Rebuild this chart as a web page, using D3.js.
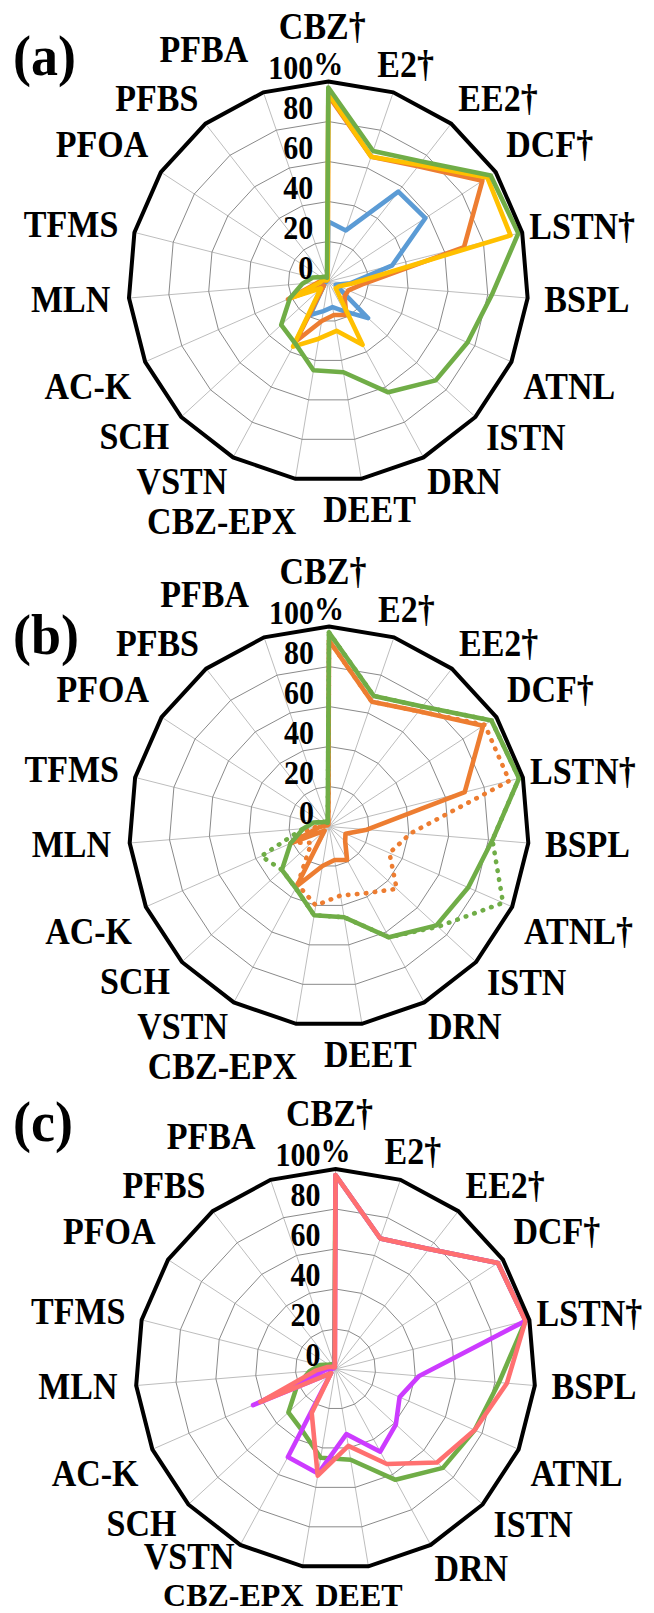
<!DOCTYPE html>
<html>
<head>
<meta charset="utf-8">
<script src="https://cdn.jsdelivr.net/npm/d3@7"></script>
<style>
  html, body { margin: 0; padding: 0; background: #ffffff; }
  svg { display: block; }
  text { font-family: "Liberation Serif", "Times New Roman", serif; font-weight: bold; fill: #000; }
</style>
</head>
<body>
<svg id="chart" width="654" height="1613"></svg>
<script>
// Compounds around each radar (clockwise from the top)
const categories = ["CBZ†", "E2†", "EE2†", "DCF†", "LSTN†", "BSPL", "ATNL", "ISTN", "DRN", "DEET",
                    "CBZ-EPX", "VSTN", "SCH", "AC-K", "MLN", "TFMS", "PFOA", "PFBS", "PFBA"];
const categoriesB = ["CBZ†", "E2†", "EE2†", "DCF†", "LSTN†", "BSPL", "ATNL†", "ISTN", "DRN", "DEET",
                     "CBZ-EPX", "VSTN", "SCH", "AC-K", "MLN", "TFMS", "PFOA", "PFBS", "PFBA"];
const tickValues = [0, 20, 40, 60, 80, 100];
const gridRings = [20, 40, 60, 80];

// Removal (%) per compound
const greenAll      = [97, 69, 76, 97, 98, 82, 76, 73, 63, 46, 45, 35, 32, 21, 13, 8, 4, 3, 2];
const aBlue         = [30, 27, 57, 58, 33, 11, 4, 27, 17, 13, 15, 19, 3, 2, 1, 1, 1, 1, 1];
const aOrange       = [93, 66, 73, 92, 70, 17, 11, 11, 19, 17, 20, 34, 3, 22, 5, 2, 1, 1, 1];
const aYellow       = [94, 66, 74, 95, 94, 12, 6, 5, 36, 25, 29, 37, 5, 20, 4, 3, 1, 1, 1];
const bOrangeSolid  = [93, 66, 73, 92, 70, 19, 9, 11, 19, 17, 20, 34, 3, 21, 5, 2, 1, 1, 1];
const bOrangeDotted = [93, 66, 73, 93, 93, 41, 33, 46, 38, 35, 40, 33, 12, 20, 10, 2, 1, 1, 1];
const bGreenDotted  = [97, 69, 76, 97, 98, 82, 95, 74, 63, 46, 45, 35, 32, 37, 13, 8, 4, 3, 2];
const cGreen        = [97, 69, 76, 97, 98, 82, 76, 73, 63, 46, 45, 35, 32, 21, 13, 8, 4, 3, 2];
const cSalmon       = [97, 69, 76, 97, 98, 86, 76, 69, 54, 39, 54, 25, 3, 41, 10, 4, 2, 1, 1];
const cMagenta      = [97, 69, 76, 97, 98, 42, 35, 41, 47, 33, 53, 50, 3, 45, 5, 1, 1, 1, 1];

// Category label placement relative to the radar centre: anchor, x offset, baseline offset
const labelAnchor = ["middle", "start", "start", "start", "start", "start", "start", "start", "start", "start",
                     "end", "end", "end", "end", "end", "end", "end", "end", "end"];
const labelDx = [-6, 49, 130, 178, 201, 216, 195, 158, 99, -5, -32, -101, -159, -197, -218, -210, -180, -130, -80];
const labelDy = [-243, -205, -171, -125, -43, 30, 117, 168, 212, 240, 252, 212, 167, 117, 30, -45, -125, -171, -220];

const svg = d3.select("#chart");
const radius = 200;
const r = d3.scaleLinear().domain([0, 100]).range([0, radius]);
const n = categories.length;
const angle = d3.scaleLinear().domain([0, n]).range([0, 2 * Math.PI]);
const textStretch = 1.1;

const colors = {
  blue: "#5B9BD5", orange: "#ED7D31", yellow: "#FFC000", green: "#70AD47",
  salmon: "#FF7070", magenta: "#CC3BFF"
};

// bottomRow: in panel (c) CBZ-EPX and DEET share one line at the foot of the page
const panels = [
  { tag: "(a)", cx: 328.3, cy: 281.5, tagY: 75, labels: categories, bottomRow: null,
    series: [
      { values: aBlue, color: colors.blue },
      { values: aOrange, color: colors.orange },
      { values: aYellow, color: colors.yellow },
      { values: greenAll, color: colors.green }
    ] },
  { tag: "(b)", cx: 329, cy: 826.5, tagY: 654, labels: categoriesB, bottomRow: null,
    series: [
      { values: bOrangeSolid, color: colors.orange },
      { values: bOrangeDotted, color: colors.orange, dotted: true },
      { values: greenAll, color: colors.green },
      { values: bGreenDotted, color: colors.green, dotted: true }
    ] },
  { tag: "(c)", cx: 335.5, cy: 1369, tagY: 1141, labels: categories, bottomRow: 237,
    series: [
      { values: cGreen, color: colors.green },
      { values: cMagenta, color: colors.magenta },
      { values: cSalmon, color: colors.salmon }
    ] }
];

const ringLine = d3.lineRadial()
  .angle((d, i) => angle(i))
  .radius(d => r(d))
  .curve(d3.curveLinearClosed);

function addText(g, x, y, str, size, anchor, stretch) {
  return g.append("text")
    .attr("transform", `translate(${x},${y}) scale(1,${stretch})`)
    .attr("text-anchor", anchor)
    .attr("font-size", size)
    .text(str);
}

panels.forEach(p => {
  const g = svg.append("g").attr("transform", `translate(${p.cx},${p.cy})`);

  // spokes
  g.selectAll("line.spoke").data(d3.range(n)).join("line")
    .attr("class", "spoke")
    .attr("x1", 0).attr("y1", 0)
    .attr("x2", i => d3.pointRadial(angle(i), r(100))[0])
    .attr("y2", i => d3.pointRadial(angle(i), r(100))[1])
    .attr("stroke", "#BDBDBD").attr("stroke-width", 1);

  // inner rings
  g.selectAll("path.ring").data(gridRings).join("path")
    .attr("class", "ring")
    .attr("d", v => ringLine(d3.range(n).map(() => v)))
    .attr("fill", "none").attr("stroke", "#8A8A8A").attr("stroke-width", 1);

  // series
  p.series.forEach(s => {
    g.append("path")
      .attr("d", ringLine(s.values))
      .attr("fill", "none")
      .attr("stroke", s.color)
      .attr("stroke-width", 4.6)
      .attr("stroke-linejoin", "round")
      .attr("stroke-linecap", "round")
      .attr("stroke-dasharray", s.dotted ? "0.5,8.5" : null);
  });

  // outer boundary
  g.append("path")
    .attr("d", ringLine(d3.range(n).map(() => 100)))
    .attr("fill", "none").attr("stroke", "#000").attr("stroke-width", 4)
    .attr("stroke-linejoin", "miter");

  // radial tick labels
  tickValues.forEach(v => {
    addText(g, -15, -r(v) - 3, v === 100 ? "100" : String(v), 30, "end", textStretch);
    if (v === 100) addText(g, -15, -r(v) - 7, "%", 30, "start", textStretch);
  });

  // category labels
  p.labels.forEach((lab, i) => {
    let dx = labelDx[i], dy = labelDy[i], anchor = labelAnchor[i];
    let stretch = textStretch, size = 34;
    if (p.bottomRow !== null) {
      if (lab === "DEET") { dx = -20; dy = p.bottomRow; stretch = 1; size = 32; }
      if (lab === "CBZ-EPX") { dy = p.bottomRow; stretch = 1; size = 32; }
      if (lab === "VSTN") { dy = labelDy[i] - 12; }
    }
    addText(g, dx, dy, lab, size, anchor, stretch);
  });

  // panel tag
  addText(svg, 13, p.tagY, p.tag, 54, "start", 1.05);
});
</script>
</body>
</html>
